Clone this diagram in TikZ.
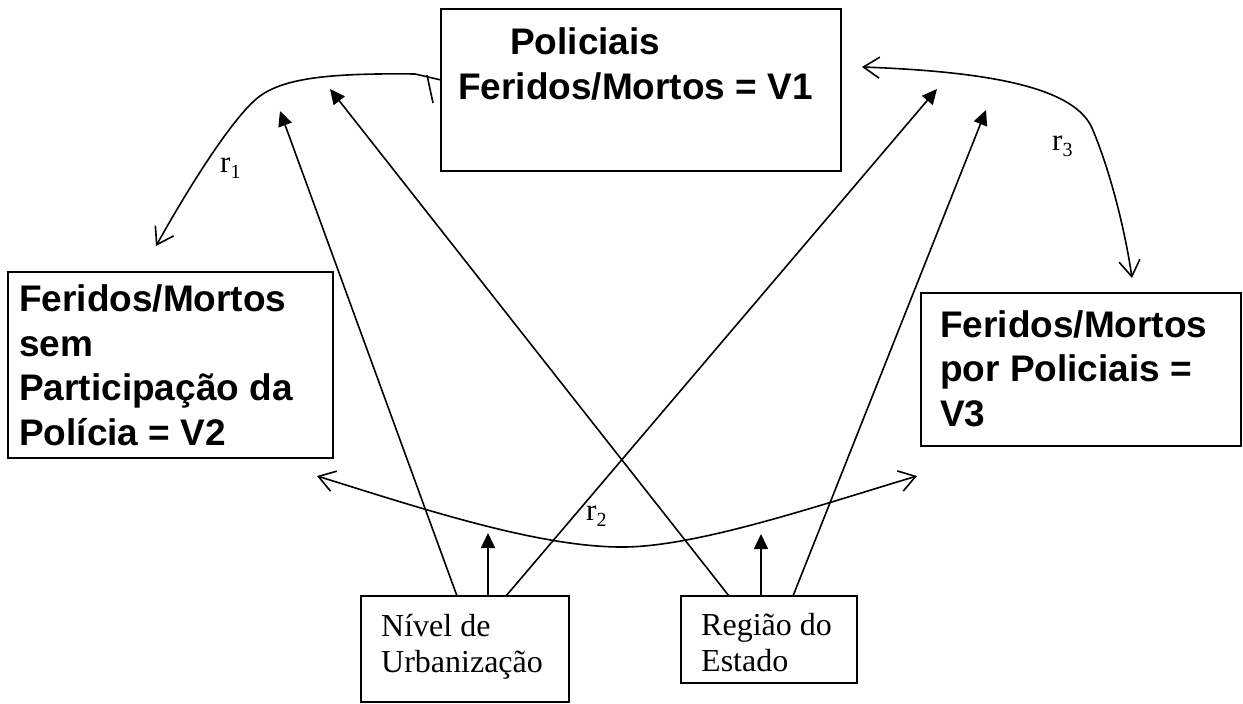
\documentclass[tikz,border=0pt]{standalone}
\usepackage{fontspec}
\setmainfont{Liberation Serif}
\newfontfamily\boldsans{Liberation Sans}
\usetikzlibrary{arrows.meta}
\begin{document}
\begin{tikzpicture}[x=1pt,y=-1pt,
  box/.style={draw, line width=1.9pt, rectangle, inner sep=0pt, outer sep=0pt, anchor=north west},
  bigtxt/.style={inner sep=0pt, anchor=base west, align=left, font=\boldsans\bfseries\fontsize{37}{44.5}\selectfont},
  smalltxt/.style={inner sep=0pt, anchor=base west, align=left, font=\fontsize{32}{36}\selectfont},
  lbl/.style={inner sep=0pt, anchor=base west, font=\fontsize{31}{31}\selectfont},
  causal/.style={line width=1.6pt, -{Triangle[length=15pt,width=14pt]}},
  barb/.tip={Straight Barb[length=16pt,width=21pt]},
  corr/.style={line width=1.6pt},
]
\useasboundingbox (0,0) rectangle (1243,704);

% boxes
\node[box, minimum width=400pt, minimum height=162pt] (v1) at (441,9) {};
\node[box, minimum width=325pt, minimum height=186pt] (v2) at (8,272) {};
\node[box, minimum width=320pt, minimum height=153pt] (v3) at (921,293) {};
\node[box, minimum width=208pt, minimum height=106pt] (niv) at (361,596) {};
\node[box, minimum width=176pt, minimum height=87pt] (reg) at (681,596) {};

% texts (anchored at the baseline of the last line)
\node[bigtxt] (t1) at (458,99) {\hspace*{52pt}Policiais\\Feridos/Mortos = V1};
\node[bigtxt] (t2) at (19,445) {Feridos/Mortos\\sem\\Participação da\\Polícia = V2};
\node[bigtxt] (t3) at (940,426) {Feridos/Mortos\\por Policiais =\\V3};
\node[smalltxt] (t4) at (381,672) {Nível de\\Urbanização};
\node[smalltxt] (t5) at (701,671) {Região do\\Estado};

% labels
\node[lbl] (l1) at (220,172) {r\raisebox{-6pt}{\fontsize{20}{20}\selectfont 1}};
\node[lbl] (l2) at (586,520) {r\raisebox{-6pt}{\fontsize{20}{20}\selectfont 2}};
\node[lbl] (l3) at (1052,150) {r\raisebox{-6pt}{\fontsize{20}{20}\selectfont 3}};

% free ends
\coordinate (ta) at (280,111);
\coordinate (tb) at (330,89);
\coordinate (tc) at (937,89);
\coordinate (td) at (986,110);
\coordinate (tu1) at (488,533);
\coordinate (tu2) at (761,534);
\coordinate (r1e) at (156,246);
\coordinate (r3s) at (862,67);
\coordinate (r3e) at (1132,278);
\coordinate (r2s) at (317,476);
\coordinate (r2e) at (917,476);

% causal arrows
\draw[causal] ([xshift=96pt]niv.north west) -- (ta);
\draw[causal] ([xshift=127pt]niv.north west) -- (tu1);
\draw[causal] ([xshift=145pt]niv.north west) -- (tc);
\draw[causal] ([xshift=48pt]reg.north west) -- (tb);
\draw[causal] ([xshift=80pt]reg.north west) -- (tu2);
\draw[causal] ([xshift=112pt]reg.north west) -- (td);

% correlations
\draw[corr, -barb] ([yshift=10pt]v1.west) -- (415,74) .. controls (330,73) and (285,78) .. (260,96) .. controls (235,114) and (190,185) .. (r1e);
\draw[corr] (427,75) -- (433,103);
\draw[corr, barb-barb] (r3s) .. controls (1000,72) and (1075,90) .. (1092,128) .. controls (1110,170) and (1125,230) .. (r3e);
\draw[corr, barb-barb] (r2s) .. controls (420,508) and (540,548) .. (625,547) .. controls (700,546) and (820,505) .. (r2e);
\end{tikzpicture}
\end{document}
